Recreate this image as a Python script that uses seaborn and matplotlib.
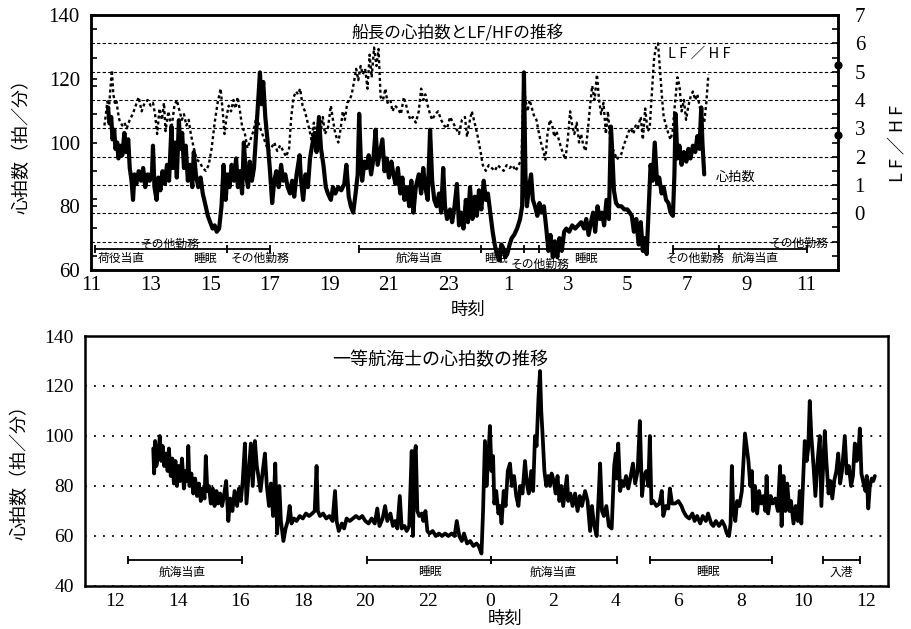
import matplotlib
matplotlib.use("Agg")
import numpy as np
import pandas as pd
import matplotlib.pyplot as plt
import seaborn as sns

sns.set_theme(style="white")
plt.rcParams['font.family'] = ['Noto Sans CJK JP', 'DejaVu Sans']
plt.rcParams['axes.unicode_minus'] = False

# ---------------- data ----------------
# Captain: heart rate (hours from 11:00, continuous past midnight)
cap_hr_t = [11.57, 11.62, 11.68, 11.72, 11.78, 11.82, 11.88, 11.92, 11.98, 12.05, 12.12, 12.18, 12.25, 12.3,
            12.36, 12.41, 12.46, 12.52, 12.6, 12.68, 12.75, 12.82, 12.9, 12.97, 13.05, 13.08, 13.13, 13.2,
            13.26, 13.33, 13.4, 13.48, 13.55, 13.62, 13.7, 13.75, 13.82, 13.88, 13.95, 14.0, 14.06, 14.12,
            14.18, 14.25, 14.32, 14.4, 14.45, 14.52, 14.6, 14.68, 14.75, 14.85, 14.92, 15.0, 15.08, 15.15,
            15.22, 15.3, 15.38, 15.45, 15.52, 15.58, 15.65, 15.72, 15.8, 15.87, 15.93, 16.0, 16.07, 16.13,
            16.2, 16.27, 16.33, 16.4, 16.47, 16.55, 16.62, 16.67, 16.72, 16.78, 16.85, 16.92, 17.0, 17.08,
            17.15, 17.22, 17.3, 17.38, 17.45, 17.52, 17.6, 17.68, 17.75, 17.82, 17.9, 18.0, 18.05, 18.12,
            18.2, 18.28, 18.35, 18.42, 18.5, 18.57, 18.65, 18.72, 18.8, 18.88, 18.95, 19.05, 19.12, 19.2,
            19.3, 19.4, 19.5, 19.57, 19.65, 19.72, 19.8, 19.88, 19.95, 20.0, 20.05, 20.1, 20.18, 20.25,
            20.32, 20.4, 20.48, 20.55, 20.62, 20.7, 20.78, 20.85, 20.92, 21.0, 21.08, 21.15, 21.22, 21.3,
            21.38, 21.45, 21.52, 21.6, 21.68, 21.75, 21.82, 21.9, 22.0, 22.08, 22.15, 22.22, 22.3, 22.38,
            22.45, 22.52, 22.6, 22.68, 22.75, 22.82, 22.88, 22.95, 23.05, 23.12, 23.2, 23.28, 23.35, 23.42,
            23.5, 23.58, 23.65, 23.72, 23.8, 23.88, 23.95, 24.02, 24.1, 24.18, 24.25, 24.32, 24.4, 24.48,
            24.55, 24.62, 24.7, 24.77, 24.83, 24.9, 24.97, 25.05, 25.12, 25.2, 25.3, 25.4, 25.47, 25.53,
            25.58, 25.63, 25.7, 25.77, 25.83, 25.9, 25.98, 26.05, 26.12, 26.2, 26.28, 26.35, 26.42, 26.5,
            26.57, 26.65, 26.72, 26.8, 26.88, 26.95, 27.05, 27.15, 27.25, 27.35, 27.45, 27.55, 27.62, 27.7,
            27.78, 27.85, 27.92, 28.0, 28.08, 28.15, 28.22, 28.3, 28.38, 28.45, 28.5, 28.55, 28.62, 28.7,
            28.8, 28.9, 29.0, 29.08, 29.15, 29.22, 29.3, 29.38, 29.45, 29.52, 29.58, 29.65, 29.72, 29.78,
            29.85, 29.92, 30.0, 30.07, 30.15, 30.22, 30.3, 30.38, 30.45, 30.53, 30.58, 30.62, 30.68, 30.75,
            30.82, 30.9, 30.98, 31.05, 31.12, 31.2, 31.28, 31.35, 31.42, 31.48, 31.52, 31.58]
cap_hr_v = [111, 106, 108, 101, 104, 98, 100, 95, 99, 96, 103, 97, 101, 92,
            88, 82, 90, 87, 91, 88, 92, 86, 90, 88, 91, 99, 86, 82,
            89, 85, 91, 87, 93, 88, 105, 92, 100, 89, 107, 98, 103, 92,
            99, 88, 93, 86, 97, 90, 86, 89, 84, 80, 77, 75, 73, 74,
            72, 73, 80, 93, 82, 90, 86, 93, 88, 95, 86, 91, 84, 100,
            90, 86, 94, 88, 92, 104, 115, 122, 112, 119, 108, 101, 92, 81,
            88, 91, 86, 93, 88, 90, 86, 84, 88, 83, 90, 96, 88, 82,
            90, 86, 95, 99, 103, 97, 108, 98, 93, 86, 84, 82, 86, 84,
            86, 85, 87, 93, 83, 80, 78, 84, 90, 109, 96, 88, 94, 92,
            96, 90, 95, 104, 93, 97, 101, 91, 95, 89, 94, 90, 87, 92,
            84, 89, 82, 86, 80, 88, 78, 86, 90, 84, 92, 86, 82, 104,
            88, 82, 80, 84, 78, 92, 80, 76, 79, 75, 80, 87, 74, 78,
            73, 82, 75, 86, 76, 83, 77, 85, 79, 88, 82, 84, 78, 72,
            68, 65, 63, 68, 67, 64, 65, 68, 70, 71, 73, 76, 80, 122,
            90, 80, 86, 90, 82, 80, 77, 81, 78, 80, 73, 66, 71, 64,
            69, 64, 70, 66, 72, 73, 72, 74, 73, 74, 75, 73, 76, 71,
            75, 78, 72, 80, 76, 78, 74, 82, 76, 105, 96, 85, 81, 80,
            80, 79, 79, 78, 77, 72, 76, 68, 75, 66, 70, 65, 80, 93,
            88, 100, 87, 89, 84, 86, 82, 81, 78, 77, 90, 109, 95, 99,
            93, 97, 94, 98, 95, 99, 97, 102, 98, 111, 100, 90]

# Captain: LF/HF
cap_lf_t = [11.45, 11.5, 11.55, 11.6, 11.65, 11.7, 11.75, 11.8, 11.85, 11.9, 11.95, 12.05, 12.12, 12.2,
            12.3, 12.4, 12.5, 12.6, 12.7, 12.8, 12.9, 13.0, 13.08, 13.15, 13.22, 13.3, 13.38, 13.45, 13.5,
            13.6, 13.7, 13.8, 13.88, 13.95, 14.05, 14.12, 14.2, 14.28, 14.35, 14.45, 14.55, 14.65, 14.75,
            14.85, 14.95, 15.05, 15.15, 15.25, 15.35, 15.42, 15.48, 15.55, 15.62, 15.7, 15.78, 15.85, 15.92,
            16.0, 16.08, 16.15, 16.25, 16.35, 16.45, 16.55, 16.65, 16.75, 16.85, 16.95, 17.05, 17.15, 17.25,
            17.35, 17.45, 17.55, 17.65, 17.72, 17.8, 17.88, 17.95, 18.02, 18.1, 18.18, 18.25, 18.32, 18.4,
            18.48, 18.55, 18.62, 18.7, 18.78, 18.85, 18.95, 19.05, 19.12, 19.2, 19.3, 19.38, 19.45, 19.52,
            19.6, 19.68, 19.75, 19.82, 19.9, 19.97, 20.05, 20.12, 20.2, 20.28, 20.35, 20.42, 20.5, 20.58,
            20.65, 20.72, 20.8, 20.88, 20.95, 21.05, 21.12, 21.2, 21.3, 21.4, 21.5, 21.58, 21.65, 21.72,
            21.8, 21.9, 22.0, 22.08, 22.15, 22.22, 22.3, 22.38, 22.45, 22.55, 22.65, 22.75, 22.85, 22.95,
            23.05, 23.15, 23.25, 23.35, 23.45, 23.55, 23.62, 23.7, 23.78, 23.85, 23.92, 24.0, 24.07, 24.15,
            24.25, 24.35, 24.45, 24.55, 24.65, 24.75, 24.85, 24.95, 25.05, 25.15, 25.25, 25.35, 25.45, 25.52,
            25.58, 25.65, 25.72, 25.8, 25.88, 25.95, 26.02, 26.1, 26.18, 26.25, 26.32, 26.4, 26.48, 26.55,
            26.62, 26.7, 26.78, 26.85, 26.92, 27.0, 27.08, 27.15, 27.22, 27.3, 27.38, 27.45, 27.52, 27.6,
            27.68, 27.75, 27.82, 27.9, 27.98, 28.05, 28.12, 28.2, 28.28, 28.35, 28.42, 28.5, 28.58, 28.65,
            28.72, 28.8, 28.88, 28.95, 29.05, 29.12, 29.2, 29.28, 29.35, 29.45, 29.52, 29.6, 29.68, 29.75,
            29.82, 29.9, 29.97, 30.03, 30.1, 30.17, 30.22, 30.3, 30.38, 30.45, 30.52, 30.6, 30.68, 30.75,
            30.82, 30.9, 30.97, 31.05, 31.12, 31.2, 31.28, 31.35, 31.42, 31.5, 31.58, 31.65, 31.72]
cap_lf_v = [3.1, 3.5, 3.95, 3.6, 4.4, 5.05, 4.2, 3.9, 4.0, 3.6, 3.3, 3.1, 3.2, 3.0,
            3.3, 3.5, 3.8, 4.1, 3.6, 3.9, 4.0, 3.8, 3.9, 3.5, 2.8, 3.7, 3.3, 3.9, 2.9,
            3.6, 3.0, 3.8, 4.0, 3.7, 3.3, 3.5, 3.1, 3.3, 2.8, 2.3, 1.9, 1.8, 1.6,
            1.5, 1.7, 2.3, 3.2, 3.9, 4.4, 3.6, 2.8, 3.4, 3.8, 3.6, 4.0, 3.7, 4.1,
            3.6, 3.0, 2.9, 2.3, 2.6, 2.9, 3.4, 3.1, 2.8, 2.5, 2.2, 2.3, 2.5, 2.2,
            2.4, 2.2, 2.0, 2.3, 3.4, 4.1, 4.3, 4.2, 4.4, 3.8, 3.6, 3.3, 3.0, 2.6,
            3.2, 2.7, 3.2, 2.8, 3.4, 2.8, 3.0, 3.8, 3.3, 2.8, 2.5, 3.0, 3.6, 3.3,
            3.9, 4.0, 4.2, 4.6, 5.1, 4.7, 5.2, 4.9, 5.1, 4.4, 5.6, 4.8, 5.85, 5.2,
            5.8, 4.1, 4.0, 4.4, 3.9, 4.0, 3.6, 3.8, 3.7, 3.5, 4.1, 3.8, 3.5, 3.3,
            3.4, 3.2, 3.6, 4.4, 4.0, 4.2, 3.8, 3.5, 3.3, 3.5, 3.6, 3.3, 3.1, 3.0,
            3.4, 3.2, 3.0, 2.8, 3.3, 3.4, 2.7, 3.2, 3.6, 3.3, 3.0, 2.6, 2.2, 1.7,
            1.5, 1.7, 1.6, 1.5, 1.7, 1.6, 1.5, 1.7, 1.6, 1.7, 1.5, 1.7, 1.9, 5.0,
            4.0, 3.6, 4.0, 3.7, 3.4, 3.3, 2.9, 2.5, 2.2, 1.9, 2.8, 3.3, 3.1, 2.7,
            2.9, 2.6, 2.3, 2.1, 1.9, 2.6, 3.6, 3.1, 2.8, 3.2, 2.5, 2.8, 2.4, 2.2,
            3.0, 3.8, 4.5, 4.0, 4.9, 4.0, 3.5, 3.9, 2.8, 3.6, 2.6, 2.3, 2.1, 1.9,
            2.0, 2.1, 2.4, 2.6, 2.9, 3.0, 2.8, 3.1, 3.0, 3.4, 2.6, 3.7, 2.9, 3.0,
            4.2, 5.5, 5.9, 6.0, 5.0, 4.0, 3.4, 3.1, 2.8, 2.6, 2.9, 3.9, 4.8, 4.5,
            3.6, 4.0, 3.3, 3.8, 4.1, 4.3, 4.0, 4.2, 3.8, 3.5, 3.2, 3.9, 4.9]
cap_lf_markers = [5.23, 2.76]

# First officer: heart rate
fo_hr_t = [13.22, 13.25, 13.28, 13.32, 13.38, 13.43, 13.48, 13.52, 13.57, 13.62, 13.68, 13.72, 13.78, 13.83,
           13.88, 13.93, 13.98, 14.03, 14.08, 14.14, 14.2, 14.26, 14.31, 14.34, 14.38, 14.44, 14.5, 14.56,
           14.62, 14.68, 14.74, 14.8, 14.86, 14.9, 14.95, 15.0, 15.06, 15.12, 15.18, 15.24, 15.3, 15.36,
           15.42, 15.48, 15.55, 15.62, 15.68, 15.75, 15.82, 15.9, 15.96, 16.02, 16.08, 16.15, 16.2, 16.27,
           16.34, 16.4, 16.47, 16.53, 16.58, 16.65, 16.72, 16.79, 16.85, 16.92, 16.98, 17.05, 17.12, 17.18,
           17.25, 17.3, 17.38, 17.45, 17.52, 17.58, 17.64, 17.72, 17.8, 17.9, 18.0, 18.1, 18.2, 18.3,
           18.38, 18.44, 18.48, 18.55, 18.65, 18.75, 18.85, 18.95, 19.03, 19.08, 19.15, 19.25, 19.32, 19.4,
           19.5, 19.6, 19.7, 19.8, 19.9, 20.0, 20.1, 20.2, 20.3, 20.38, 20.45, 20.55, 20.63, 20.7,
           20.8, 20.88, 20.95, 21.02, 21.1, 21.16, 21.25, 21.32, 21.4, 21.48, 21.52, 21.57, 21.61, 21.66,
           21.72, 21.8, 21.85, 21.92, 21.98, 22.05, 22.15, 22.25, 22.35, 22.45, 22.55, 22.65, 22.76, 22.85,
           22.92, 23.0, 23.08, 23.15, 23.25, 23.35, 23.45, 23.55, 23.62, 23.71, 23.76, 23.82, 23.87, 23.93,
           23.98, 24.03, 24.08, 24.12, 24.18, 24.25, 24.3, 24.35, 24.42, 24.48, 24.55, 24.62, 24.68, 24.75,
           24.82, 24.89, 24.95, 25.02, 25.1, 25.16, 25.22, 25.3, 25.36, 25.42, 25.47, 25.53, 25.58, 25.62,
           25.66, 25.72, 25.78, 25.84, 25.9, 25.95, 26.02, 26.08, 26.14, 26.2, 26.26, 26.32, 26.38, 26.44,
           26.48, 26.55, 26.62, 26.7, 26.78, 26.85, 26.92, 27.02, 27.1, 27.18, 27.24, 27.3, 27.39, 27.45,
           27.5, 27.56, 27.62, 27.7, 27.78, 27.87, 27.95, 28.0, 28.04, 28.08, 28.14, 28.2, 28.26, 28.33,
           28.4, 28.45, 28.55, 28.62, 28.7, 28.77, 28.84, 28.9, 28.98, 29.04, 29.09, 29.14, 29.2, 29.3,
           29.4, 29.47, 29.52, 29.6, 29.68, 29.73, 29.8, 29.9, 30.0, 30.1, 30.16, 30.25, 30.35, 30.45,
           30.52, 30.6, 30.7, 30.78, 30.88, 30.95, 31.05, 31.12, 31.2, 31.3, 31.4, 31.48, 31.55, 31.62,
           31.67, 31.71, 31.75, 31.82, 31.88, 31.95, 32.03, 32.09, 32.13, 32.18, 32.24, 32.3, 32.35, 32.39,
           32.45, 32.52, 32.58, 32.65, 32.72, 32.78, 32.82, 32.87, 32.95, 33.02, 33.1, 33.18, 33.25, 33.3,
           33.36, 33.42, 33.48, 33.55, 33.6, 33.68, 33.75, 33.82, 33.88, 33.93, 33.98, 34.04, 34.1, 34.15,
           34.2, 34.25, 34.32, 34.38, 34.45, 34.52, 34.57, 34.63, 34.68, 34.73, 34.8, 34.86, 34.92, 34.98,
           35.05, 35.11, 35.17, 35.23, 35.32, 35.38, 35.45, 35.52, 35.58, 35.64, 35.7, 35.75, 35.8, 35.85,
           35.92, 35.98, 36.02, 36.07, 36.12, 36.18, 36.23, 36.28]
fo_hr_v = [95, 85, 98, 88, 92, 100, 90, 96, 88, 93, 86, 95, 84, 91,
           81, 90, 80, 88, 82, 91, 79, 86, 82, 96, 80, 85, 77, 83,
           76, 81, 74, 79, 75, 92, 78, 80, 73, 79, 72, 78, 73, 77,
           72, 76, 82, 66, 75, 70, 78, 72, 79, 74, 82, 97, 73, 85,
           97, 80, 98, 88, 84, 78, 86, 93, 80, 72, 81, 68, 89, 61,
           80, 66, 58, 63, 66, 72, 65, 67, 66, 68, 67, 69, 68, 69,
           70, 88, 70, 68, 69, 67, 68, 66, 78, 66, 62, 65, 63, 67,
           66, 67, 68, 67, 68, 66, 65, 67, 65, 71, 64, 67, 72, 66,
           69, 64, 66, 63, 76, 63, 64, 62, 64, 94, 60, 93, 96, 70,
           68, 69, 66, 70, 62, 61, 62, 60, 61, 60, 61, 60, 61, 60,
           66, 60, 58, 61, 57, 58, 56, 57, 56, 53, 70, 98, 80, 92,
           104, 86, 92, 73, 78, 69, 72, 65, 78, 72, 86, 89, 80, 84,
           76, 72, 80, 77, 90, 81, 77, 86, 78, 100, 96, 115, 126, 110,
           101, 86, 80, 84, 80, 85, 82, 77, 84, 74, 80, 72, 78, 84,
           74, 77, 72, 77, 70, 76, 72, 78, 74, 62, 72, 65, 60, 75,
           89, 70, 68, 72, 64, 63, 88, 93, 83, 97, 78, 82, 80, 84,
           79, 82, 89, 81, 86, 106, 76, 84, 86, 80, 100, 73, 74, 72,
           73, 78, 68, 72, 71, 79, 73, 73, 74, 72, 70, 68, 67, 69,
           66, 68, 65, 68, 66, 69, 65, 64, 66, 64, 66, 64, 61, 60,
           65, 88, 72, 66, 74, 72, 78, 92, 101, 96, 90, 80, 86, 70,
           80, 69, 78, 73, 76, 70, 84, 69, 76, 73, 75, 70, 88, 64,
           84, 70, 81, 70, 74, 65, 72, 66, 78, 65, 80, 98, 90, 95,
           114, 100, 88, 76, 90, 100, 72, 88, 102, 90, 77, 82, 75, 82,
           86, 93, 81, 86, 100, 85, 88, 80, 84, 97, 90, 92, 103, 85,
           81, 78, 84, 71, 80, 83, 82, 84]

# activity periods
cap_act_ticks = [[11.13, 15.56, 17.0], [20.0, 24.09, 25.53, 26.03, 29.56], [30.53, 32.07, 35.03]]
cap_act_labels = ["荷役当直", "その他勤務", "睡眠", "その他勤務", "航海当直", "睡眠", "その他勤務", "睡眠",
                  "その他勤務", "航海当直", "その他勤務"]
cap_act_pos = [12.0, 13.65, 14.83, 16.67, 22.0, 24.6, 26.07, 27.6, 31.27, 33.28, 34.75]
cap_act_row = [0, 2, 0, 0, 0, 0, 1, 0, 0, 0, 3]

fo_act_start = [12.42, 20.05, 24.0, 29.09, 34.63]
fo_act_end = [16.06, 24.0, 28.03, 32.98, 35.8]
fo_act_labels = ["航海当直", "睡眠", "航海当直", "睡眠", "入港"]
fo_act_pos = [14.14, 22.06, 26.0, 30.95, 35.22]

top_xticks = [11, 13, 15, 17, 19, 21, 23, 25, 27, 29, 31, 33, 35]
top_xticklabels = ['11', '13', '15', '17', '19', '21', '23', '1', '3', '5', '7', '9', '11']
top_yticks = [60, 80, 100, 120, 140]
right_yticks = [-1, 0, 1, 2, 3, 4, 5, 6, 7]
right_yticklabels = ['', '0', '1', '2', '3', '4', '5', '6', '7']
bot_xticks = [12, 14, 16, 18, 20, 22, 24, 26, 28, 30, 32, 34, 36]
bot_xticklabels = ['12', '14', '16', '18', '20', '22', '0', '2', '4', '6', '8', '10', '12']
bot_yticks = [40, 60, 80, 100, 120, 140]

cap_hr = pd.DataFrame({"t": cap_hr_t, "hr": cap_hr_v})
cap_lf = pd.DataFrame({"t": cap_lf_t, "lf": cap_lf_v})
fo_hr = pd.DataFrame({"t": fo_hr_t, "hr": fo_hr_v})

W, H = 911, 629
fig = plt.figure(figsize=(W / 100, H / 100), dpi=100)
fig.patch.set_facecolor('white')

SERIF = 'Liberation Serif'
JP = ['Noto Sans CJK JP', 'DejaVu Sans']

# ---------------- top panel ----------------
ax = fig.add_axes([91 / W, 1 - 270 / H, 747 / W, 255 / H])
ax2 = ax.twinx()
ax.set_zorder(ax2.get_zorder() + 1)
ax.patch.set_visible(False)

ax.set_xlim(11, 36.07)
ax.set_ylim(60, 140)
ax2.set_ylim(-2, 7)

sns.lineplot(data=cap_lf, x="t", y="lf", ax=ax2, color="black", linewidth=1.7,
             linestyle=(0, (1.3, 1.2)), estimator=None, sort=False)
sns.lineplot(data=cap_hr, x="t", y="hr", ax=ax, color="black", linewidth=3.0,
             estimator=None, sort=False)

ax2.scatter([1] * len(cap_lf_markers), cap_lf_markers, s=24, color='black',
            transform=ax2.get_yaxis_transform(), clip_on=False, zorder=10)

ax2.set_yticks(right_yticks)
ax2.set_yticklabels(right_yticklabels)
ax2.set_yticks(np.arange(-1.5, 7, 1.0), minor=True)
ax2.yaxis.grid(True, which='major', color='black', linestyle=(0, (3, 2)), linewidth=0.8)
ax.set_xticks(top_xticks)
ax.set_xticklabels(top_xticklabels)
ax.set_yticks(top_yticks)
ax.set_yticks([60 + (v + 2) * 80 / 9 for v in np.arange(-1.5, 7, 1.0)], minor=True)

for a in (ax, ax2):
    a.set_xlabel("")
    a.set_ylabel("")
    for s in a.spines.values():
        s.set_color('black')
        s.set_linewidth(1.8)
ax.tick_params(axis='both', which='both', direction='in', color='black')
ax.tick_params(axis='x', which='major', length=6, width=1.5, pad=4, labelsize=15)
ax.tick_params(axis='y', which='major', length=4, width=1.2, pad=8, labelsize=15)
ax.tick_params(axis='y', which='minor', length=4, width=1.2)
ax2.tick_params(axis='y', which='both', direction='in', color='black', length=4, width=1.2,
                pad=12, labelsize=15)
for lab in ax.get_xticklabels() + ax.get_yticklabels() + ax2.get_yticklabels():
    lab.set_fontfamily(SERIF)
    lab.set_color('black')

# activity brackets (top)
br_y = -1.25
row_y = {0: -1.6, 1: -1.8, 2: -1.1, 3: -1.05}
for ticks in cap_act_ticks:
    ax2.plot([ticks[0], ticks[-1]], [br_y, br_y], color='black', lw=1.3)
    ax2.plot(ticks, [br_y] * len(ticks), linestyle='none', marker='|', ms=6, mew=1.3, color='black')
for lab, x, r in zip(cap_act_labels, cap_act_pos, cap_act_row):
    ax2.text(x, row_y[r], lab, ha='center', va='center', fontsize=8.5, family=JP, color='black')

ax.text(0.491, 0.93, "船長の心拍数とLF/HFの推移", transform=ax.transAxes, ha='center', va='center',
        fontsize=12, family=JP, color='black')
ax2.text(31.4, 5.62, "L F ／ H F", ha='center', va='center', fontsize=10.5, family=JP, color='black')
ax2.text(32.64, 1.28, "心拍数", ha='center', va='center', fontsize=9.5, family=JP, color='black')

fig.text(22 / W, 1 - 142 / H, "心拍数（拍／分）", rotation=90, ha='center', va='center',
         fontsize=13, family=JP, color='black')
fig.text(897 / W, 1 - 143 / H, "L F ／ H F", rotation=90, ha='center', va='center',
         fontsize=13, family=JP, color='black')
fig.text(468 / W, 1 - 310 / H, "時刻", ha='center', va='center', fontsize=12.5, family=JP, color='black')

# ---------------- bottom panel ----------------
bx = fig.add_axes([85 / W, 1 - 586 / H, 803 / W, 250 / H])
bx.set_xlim(11.04, 36.7)
bx.set_ylim(40, 140)
sns.lineplot(data=fo_hr, x="t", y="hr", ax=bx, color="black", linewidth=2.7,
             estimator=None, sort=False)
bx.set_xlabel("")
bx.set_ylabel("")
bx.set_xticks(bot_xticks)
bx.set_xticklabels(bot_xticklabels)
bx.set_yticks(bot_yticks)
bx.set_yticks([50, 70, 90, 110, 130], minor=True)
bx.yaxis.grid(True, which='major', color='black', linestyle=(0, (1, 4)), linewidth=1.3)
for s in bx.spines.values():
    s.set_color('black')
    s.set_linewidth(1.8)
bx.tick_params(axis='both', which='both', direction='in', color='black')
bx.tick_params(axis='x', which='major', length=6, width=1.5, pad=5, labelsize=14)
bx.tick_params(axis='y', which='major', length=4, width=1.2, pad=8, labelsize=14)
bx.tick_params(axis='y', which='minor', length=4, width=1.2)
for lab in bx.get_xticklabels() + bx.get_yticklabels():
    lab.set_fontfamily(SERIF)
    lab.set_color('black')

for x0, x1, lab, xp in zip(fo_act_start, fo_act_end, fo_act_labels, fo_act_pos):
    bx.plot([x0, x1], [50.4, 50.4], color='black', lw=1.3)
    bx.plot([x0, x1], [50.4, 50.4], linestyle='none', marker='|', ms=6, mew=1.3, color='black')
    bx.text(xp, 45.6, lab, ha='center', va='center', fontsize=8.5, family=JP, color='black')

bx.text(0.442, 0.904, "一等航海士の心拍数の推移", transform=bx.transAxes, ha='center', va='center',
        fontsize=13, family=JP, color='black')
fig.text(20 / W, 1 - 468 / H, "心拍数（拍／分）", rotation=90, ha='center', va='center',
         fontsize=13, family=JP, color='black')
fig.text(505 / W, 1 - 619 / H, "時刻", ha='center', va='center', fontsize=12.5, family=JP, color='black')

fig.savefig("out.png", dpi=100, facecolor='white')
